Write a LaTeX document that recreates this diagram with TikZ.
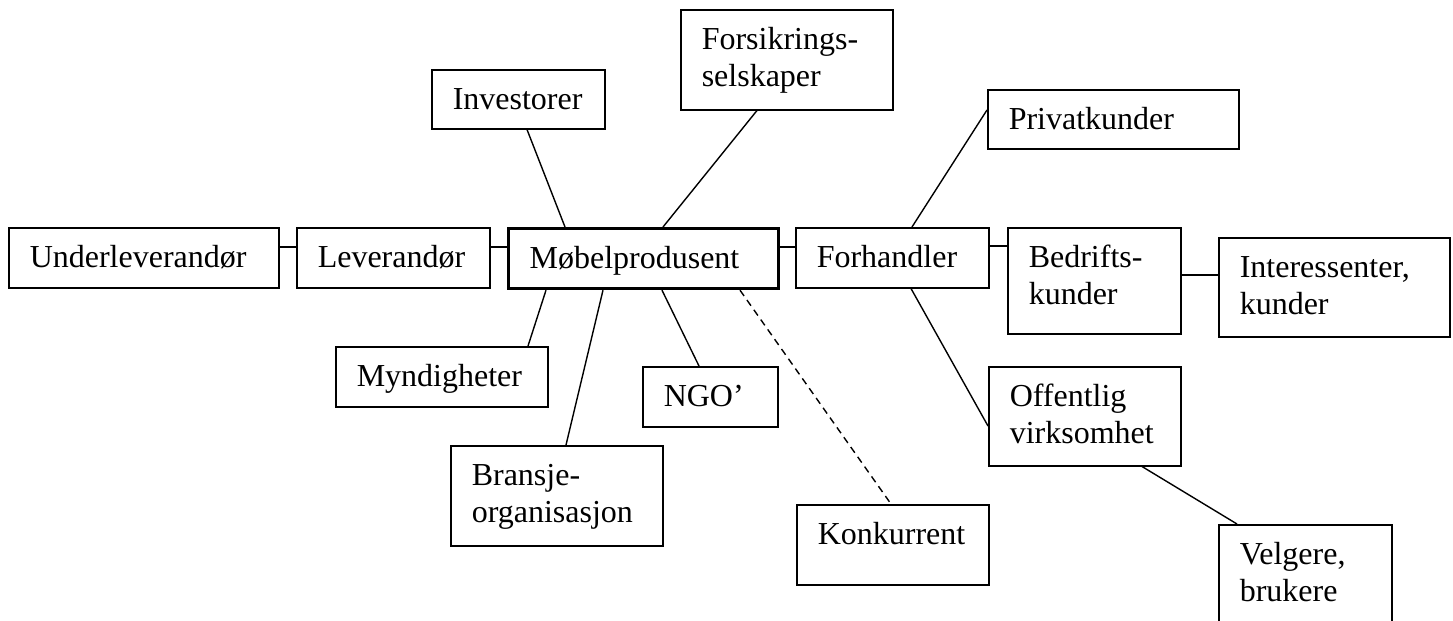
\documentclass[tikz,border=0pt]{standalone}
\usepackage{fontspec}
\setmainfont{Liberation Serif}
\usetikzlibrary{calc}
\newlength\pxu
\setlength\pxu{0.5pt}
\newcommand{\boxtxt}[3]{\parbox[t][#2\pxu][t]{#1\pxu}{\raggedright\leftskip=10.5pt\relax\vspace*{7.05pt}\strut#3\strut}}
\tikzset{
  box/.style={draw, line width=0.75pt, inner sep=0pt, anchor=north west, font=\fontsize{16}{18.5}\selectfont},
  mainbox/.style={box, line width=1.6pt},
  link/.style={line width=0.7pt},
  dashlink/.style={link, dash pattern=on 3.5pt off 2.5pt}
}
\begin{document}
\begin{tikzpicture}[x=0.5pt, y=-0.5pt]
\path[use as bounding box, clip] (0,0) rectangle (1453,621);
% boxes
\node[box] (under) at (8,227) {\boxtxt{270}{60}{Underleverandør}};
\node[box] (lev) at (296,227) {\boxtxt{193}{60}{Leverandør}};
\node[mainbox] (mob) at (507,227) {\boxtxt{270}{60}{Møbelprodusent}};
\node[box] (inv) at (431,69) {\boxtxt{173}{59}{Investorer}};
\node[box] (fors) at (680,9) {\boxtxt{212}{100}{Forsikrings-\\selskaper}};
\node[box] (forh) at (795,227) {\boxtxt{193}{60}{Forhandler}};
\node[box] (priv) at (987,89) {\boxtxt{251}{59}{Privatkunder}};
\node[box] (bedr) at (1007,227) {\boxtxt{173}{106}{Bedrifts-\\kunder}};
\node[box] (inter) at (1218,237) {\boxtxt{231}{99}{Interessenter,\\kunder}};
\node[box] (mynd) at (335,346) {\boxtxt{212}{60}{Myndigheter}};
\node[box] (ngo) at (642,366) {\boxtxt{135}{60}{NGO’}};
\node[box] (bran) at (450,445) {\boxtxt{212}{100}{Bransje-\\organisasjon}};
\node[box] (konk) at (796,504) {\boxtxt{192}{80}{Konkurrent}};
\node[box] (offe) at (988,366) {\boxtxt{192}{99}{Offentlig\\virksomhet}};
\node[box] (velg) at (1218,524) {\boxtxt{173}{130}{Velgere,\\brukere}};
% horizontal links
\draw[link] ($(under.north east)+(0,20)$) -- ($(lev.north west)+(0,20)$);
\draw[link] ($(lev.north east)+(0,20)$) -- ($(mob.north west)+(0,20)$);
\draw[link] ($(mob.north east)+(0,20)$) -- ($(forh.north west)+(0,20)$);
\draw[link] ($(forh.north east)+(0,19)$) -- ($(bedr.north west)+(0,19)$);
\draw[link] ($(bedr.north east)+(0,48)$) -- ($(inter.north west)+(0,38)$);
% radial links
\draw[link] ($(inv.south west)+(96,0)$) -- ($(mob.north west)+(58,0)$);
\draw[link] ($(fors.south west)+(77,0)$) -- ($(mob.north west)+(156,0)$);
\draw[link] ($(priv.north west)+(0,21)$) -- ($(forh.north west)+(117,0)$);
\draw[link] ($(mob.south west)+(39,0)$) -- ($(mynd.north west)+(193,0)$);
\draw[link] ($(mob.south west)+(96,0)$) -- ($(bran.north west)+(116,0)$);
\draw[link] ($(mob.south west)+(155,0)$) -- ($(ngo.north west)+(57,0)$);
\draw[dashlink] ($(mob.south west)+(233,0)$) -- ($(konk.north west)+(95,0)$);
\draw[link] ($(forh.south west)+(116,0)$) -- ($(offe.north west)+(0,60)$);
\draw[link] ($(offe.south west)+(154,0)$) -- ($(velg.north west)+(19,0)$);
\end{tikzpicture}
\end{document}
